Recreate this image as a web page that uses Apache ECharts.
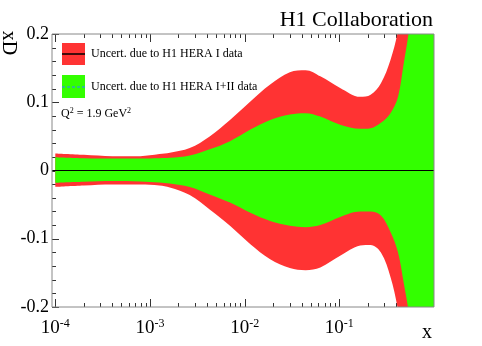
<!DOCTYPE html>
<html>
<head>
<meta charset="utf-8">
<script src="https://cdn.jsdelivr.net/npm/echarts@6/dist/echarts.min.js"></script>
<style>
  html, body { margin: 0; padding: 0; background: #fff; }
  #main { width: 482px; height: 346px; }
</style>
</head>
<body>
<div id="main"></div>
<script>
// x sampling points (log x axis)
var xVals = [1.0e-4, 2.0e-4, 4.0e-4, 7.9e-4, 1.26e-3, 1.62e-3, 2.63e-3, 4.27e-3, 7.0e-3, 0.0115,
  0.0186, 0.030, 0.044, 0.063, 0.102, 0.166, 0.214, 0.275, 0.347, 0.417, 0.479, 0.537, 0.63, 0.79, 1.0];
// HERA I uncertainty band (red)
var heraIUp = [0.025, 0.023, 0.021, 0.021, 0.024, 0.026, 0.033, 0.050, 0.074, 0.101,
  0.126, 0.144, 0.147, 0.138, 0.121, 0.108, 0.111, 0.128, 0.162, 0.205, 0.26, 0.32, 0.42, 0.6, 0.8];
var heraILow = [-0.024, -0.022, -0.0205, -0.0205, -0.022, -0.025, -0.036, -0.057, -0.081, -0.108,
  -0.130, -0.143, -0.146, -0.142, -0.125, -0.110, -0.109, -0.120, -0.156, -0.205, -0.27, -0.33, -0.43, -0.6, -0.8];
// HERA I+II uncertainty band (green)
var heraIIUp = [0.0195, 0.018, 0.0175, 0.0175, 0.018, 0.0185, 0.022, 0.031, 0.043, 0.060,
  0.074, 0.082, 0.084, 0.079, 0.067, 0.061, 0.062, 0.070, 0.084, 0.108, 0.157, 0.20, 0.28, 0.4, 0.6];
var heraIILow = [-0.018, -0.0165, -0.0155, -0.016, -0.0175, -0.019, -0.024, -0.035, -0.047, -0.062,
  -0.074, -0.081, -0.083, -0.080, -0.068, -0.060, -0.060, -0.066, -0.090, -0.12, -0.165, -0.205, -0.28, -0.4, -0.6];

// x ticks (ROOT style, mirrored top and bottom)
var xMin = 9.23e-5, xMax = 1;
var xMajorTicks = [1e-4, 1e-3, 1e-2, 1e-1];
var xMinorTicks = [
  2e-4, 3e-4, 4e-4, 5e-4, 6e-4, 7e-4, 8e-4, 9e-4,
  2e-3, 3e-3, 4e-3, 5e-3, 6e-3, 7e-3, 8e-3, 9e-3,
  2e-2, 3e-2, 4e-2, 5e-2, 6e-2, 7e-2, 8e-2, 9e-2,
  0.2, 0.3, 0.4, 0.5, 0.6, 0.7, 0.8, 0.9
];
// y ticks
var yMin = -0.2, yMax = 0.2;
var yMajorTicks = [-0.2, -0.1, 0, 0.1, 0.2];
var yMinorTicks = [-0.18, -0.16, -0.14, -0.12, -0.08, -0.06, -0.04, -0.02,
  0.02, 0.04, 0.06, 0.08, 0.12, 0.14, 0.16, 0.18];

var RED = '#ff3333', GREEN = '#33ff00';
var FONT = 'Liberation Serif';
var FRAME = '#888';
var TICK = '#333';
var GRID = { left: 52, right: 48, top: 34, bottom: 39 };

function pairs(ys) {
  return xVals.map(function (x, i) { return [x, ys[i]]; });
}

function band(name, ys, color) {
  return {
    name: name, type: 'line', xAxisIndex: 0, yAxisIndex: 0, z: 2,
    data: pairs(ys), smooth: 0.35, showSymbol: false, silent: true,
    lineStyle: { width: 0 }, areaStyle: { color: color, opacity: 1 }
  };
}

var chart = echarts.init(document.getElementById('main'));
chart.setOption({
  animation: false,
  grid: { left: GRID.left, right: GRID.right, top: GRID.top, bottom: GRID.bottom, show: true, z: 10,
    backgroundColor: 'transparent', borderColor: FRAME, borderWidth: 1 },
  xAxis: [{
    type: 'log', logBase: 10, min: xMin, max: xMax, position: 'bottom',
    axisLine: { show: false, onZero: false },
    axisTick: { show: false }, splitLine: { show: false },
    axisLabel: {
      margin: 11,
      formatter: function (v) {
        var e = Math.round(Math.log10(v));
        if (e >= 0) return '';
        return '{b|10}{s|' + e + '}';
      },
      rich: {
        b: { fontFamily: FONT, fontSize: 19, color: '#000', lineHeight: 20 },
        s: { fontFamily: FONT, fontSize: 12, color: '#000', verticalAlign: 'top', lineHeight: 12 }
      }
    }
  }],
  yAxis: [{
    type: 'value', min: yMin, max: yMax, interval: 0.1, position: 'left',
    axisLine: { show: false, onZero: false },
    splitLine: { show: false }, axisTick: { show: false }, minorTick: { show: false },
    axisLabel: { fontFamily: FONT, fontSize: 18, color: '#000', margin: 3 }
  }],
  series: [
    band('HERA I up', heraIUp, RED),
    band('HERA I low', heraILow, RED),
    band('HERA I+II up', heraIIUp, GREEN),
    Object.assign(band('HERA I+II low', heraIILow, GREEN), {
      markLine: {
        silent: true, symbol: ['none', 'none'], label: { show: false },
        lineStyle: { color: '#000', width: 1, type: 'solid' },
        data: [{ yAxis: 0 }]
      }
    })
  ]
});

// tick marks placed through the chart's own scales (thin filled rects)
var H = 346;
var topPx = GRID.top, botPx = H - GRID.bottom, leftPx = GRID.left;
var tickEls = [];
function tickRect(x, y, w, h) {
  tickEls.push({ type: 'rect', z: 1, silent: true, shape: { x: x, y: y, width: w, height: h },
    style: { fill: TICK } });
}
function xTick(v, len) {
  var px = Math.round(chart.convertToPixel({ xAxisIndex: 0 }, v));
  tickRect(px, botPx - len, 1, len);
  tickRect(px, topPx, 1, len);
}
function yTick(v, len) {
  var py = Math.round(chart.convertToPixel({ yAxisIndex: 0 }, v));
  tickRect(leftPx, py, len, 1);
}
xMajorTicks.forEach(function (v) { xTick(v, 8); });
xMinorTicks.forEach(function (v) { xTick(v, 4); });
yMajorTicks.forEach(function (v) { yTick(v, 7); });
yMinorTicks.forEach(function (v) { yTick(v, 4); });

var texts = [
  { type: 'text', right: 49, top: 9, z: 20,
    style: { text: 'H1 Collaboration', font: '22px "Liberation Serif"', fill: '#000' } },
  { type: 'text', x: 8, y: 43, rotation: -Math.PI / 2, z: 20,
    style: { text: 'xD', font: '20px "Liberation Serif"', fill: '#000', align: 'center', verticalAlign: 'middle' } },
  { type: 'text', x: 432, y: 343, z: 20,
    style: { text: 'x', font: '20px "Liberation Serif"', fill: '#000', align: 'right', verticalAlign: 'bottom' } },
  // legend
  { type: 'rect', shape: { x: 62, y: 43, width: 23, height: 22 }, style: { fill: RED }, z: 20 },
  { type: 'line', shape: { x1: 62, y1: 54, x2: 85, y2: 54 }, style: { stroke: '#000', lineWidth: 1.5 }, z: 21 },
  { type: 'text', x: 91, y: 54, z: 20,
    style: { text: 'Uncert. due to H1 HERA I data', font: '12px "Liberation Serif"', fill: '#000', verticalAlign: 'middle' } },
  { type: 'rect', shape: { x: 62, y: 75, width: 23, height: 23 }, style: { fill: GREEN }, z: 20 },
  { type: 'line', shape: { x1: 62, y1: 87, x2: 85, y2: 87 }, style: { stroke: '#30a8c0', lineWidth: 1.5, lineDash: [3, 2] }, z: 21 },
  { type: 'text', x: 91, y: 87, z: 20,
    style: { text: 'Uncert. due to H1 HERA I+II data', font: '12px "Liberation Serif"', fill: '#000', verticalAlign: 'middle' } },
  { type: 'text', x: 61, y: 114, z: 20,
    style: { text: '{n|Q}{s|2}{n| = 1.9 GeV}{s|2}', verticalAlign: 'middle',
      rich: {
        n: { fontFamily: FONT, fontSize: 12, fill: '#000', lineHeight: 14 },
        s: { fontFamily: FONT, fontSize: 8, fill: '#000', verticalAlign: 'top', lineHeight: 14 }
      } } }
];

chart.setOption({ graphic: texts.concat(tickEls) });
</script>
</body>
</html>
